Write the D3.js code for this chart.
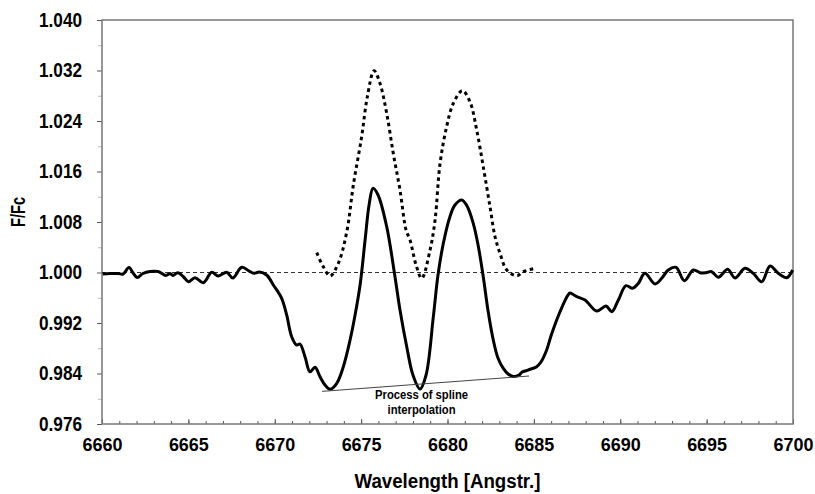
<!DOCTYPE html>
<html>
<head>
<meta charset="utf-8">
<script src="https://cdn.jsdelivr.net/npm/d3@7"></script>
<style>
  body { margin: 0; background: #fff; }
  text { font-family: "Liberation Sans", Arial, sans-serif; font-weight: bold; fill: #000; }
</style>
</head>
<body>
<script>
// observed spectrum (solid line)
var obsWl = [6660.04, 6660.46, 6660.93, 6661.22, 6661.56, 6661.80, 6662.03, 6662.37, 6662.78, 6663.24,
  6663.70, 6663.94, 6664.11, 6664.38, 6664.71, 6665.00, 6665.38, 6665.86, 6666.35, 6666.73,
  6667.22, 6667.57, 6668.09, 6668.57, 6668.82, 6669.11, 6669.53, 6669.92, 6670.40, 6670.69,
  6670.98, 6671.27, 6671.46, 6671.75, 6672.04, 6672.33, 6672.62, 6672.91, 6673.20, 6673.59,
  6673.97, 6674.36, 6674.65, 6674.94, 6675.23, 6675.46, 6675.69, 6675.98, 6676.48, 6676.96,
  6677.25, 6677.64, 6678.00, 6678.41, 6678.76, 6679.18, 6679.45, 6679.76, 6680.14, 6680.43,
  6680.82, 6681.13, 6681.49, 6681.77, 6682.07, 6682.34, 6682.65, 6682.92, 6683.23, 6683.51,
  6683.81, 6684.14, 6684.32, 6684.59, 6684.83, 6685.16, 6685.41, 6685.74, 6685.99, 6686.32,
  6686.63, 6686.98, 6687.09, 6687.48, 6687.96, 6688.64, 6689.18, 6689.51, 6689.89, 6690.33,
  6690.72, 6691.05, 6691.43, 6692.01, 6692.40, 6692.78, 6693.23, 6693.71, 6694.23, 6694.62,
  6694.96, 6695.29, 6695.68, 6696.22, 6696.64, 6697.22, 6697.70, 6698.19, 6698.67, 6699.15,
  6699.64, 6699.98];
var obsFlux = [0.99976, 0.99984, 0.99984, 0.99976, 1.00079, 0.99992, 0.99921, 0.99984, 1.00016, 1.00016,
  0.99952, 0.99984, 0.99952, 0.99997, 0.99933, 0.99854, 0.99918, 0.99838, 1.00003, 0.99945,
  1.00003, 0.99913, 1.00082, 1.00013, 0.99987, 1.00008, 0.99960, 0.99802, 0.99591, 0.99327,
  0.98983, 0.98851, 0.98867, 0.98666, 0.98428, 0.98498, 0.98349, 0.98218, 0.98150, 0.98245,
  0.98508, 0.98931, 0.99327, 0.99802, 1.00515, 1.01069, 1.01334, 1.01228, 1.00726, 0.99933,
  0.99406, 0.98825, 0.98376, 0.98154, 0.98376, 0.99300, 0.99960, 1.00463, 1.00884, 1.01069,
  1.01149, 1.01054, 1.00779, 1.00436, 0.99933, 0.99406, 0.98931, 0.98646, 0.98482, 0.98392,
  0.98352, 0.98376, 0.98424, 0.98448, 0.98471, 0.98508, 0.98582, 0.98772, 0.98994, 0.99248,
  0.99453, 0.99644, 0.99675, 0.99617, 0.99564, 0.99390, 0.99469, 0.99379, 0.99564, 0.99791,
  0.99750, 0.99829, 0.99987, 0.99818, 0.99908, 1.00040, 1.00082, 0.99870, 1.00040, 0.99997,
  0.99997, 1.00013, 0.99924, 1.00051, 0.99913, 1.00067, 0.99987, 0.99854, 1.00103, 0.99987,
  0.99918, 1.00040];

// normalised spectrum after spline (dotted line)
var normWl = [6672.43, 6672.81, 6673.20, 6673.68, 6674.17, 6674.55, 6675.03, 6675.36, 6675.75, 6676.09,
  6676.48, 6676.86, 6677.25, 6677.60, 6677.83, 6678.18, 6678.51, 6678.99, 6679.28, 6679.57,
  6679.95, 6680.34, 6680.86, 6681.30, 6681.69, 6682.07, 6682.46, 6682.75, 6683.04, 6683.43,
  6684.01, 6684.39, 6685.06];
var normFlux = [1.00314, 1.00092, 0.99945, 1.00146, 1.00646, 1.01386, 1.02151, 1.02785, 1.03197, 1.02997,
  1.02522, 1.01888, 1.01307, 1.00673, 1.00515, 1.00119, 0.99908, 1.00356, 1.00832, 1.01730,
  1.02310, 1.02681, 1.02880, 1.02706, 1.02258, 1.01676, 1.01042, 1.00567, 1.00304, 1.00040,
  0.99949, 1.00013, 1.00067];

// spline baseline through the minima
var splineWl = [6672.74, 6684.72];
var splineFlux = [0.98117, 0.98360];

var xTicks = [6660, 6665, 6670, 6675, 6680, 6685, 6690, 6695, 6700];
var yTicks = [0.976, 0.984, 0.992, 1.000, 1.008, 1.016, 1.024, 1.032, 1.040];

var W = 815, H = 494;
var m = {top: 20, right: 22, bottom: 70, left: 102};
var w = W - m.left - m.right, h = H - m.top - m.bottom;

var svg = d3.select("body").append("svg")
    .attr("width", W)
    .attr("height", H);
var g = svg.append("g").attr("transform", "translate(" + m.left + "," + m.top + ")");

var x = d3.scaleLinear().domain([6660, 6700]).range([0, w]);
var y = d3.scaleLinear().domain([0.976, 1.040]).range([h, 0]);

// minor ticks
g.append("g").attr("transform", "translate(0," + h + ")")
  .call(d3.axisBottom(x).tickValues(d3.range(6660, 6701, 1)).tickSize(-3).tickFormat(""))
  .call(function(s) { s.select(".domain").remove(); s.selectAll("line").attr("stroke", "#555"); });
g.append("g")
  .call(d3.axisLeft(y).tickValues(d3.range(0.980, 1.04, 0.008)).tickSize(4).tickFormat(""))
  .call(function(s) { s.select(".domain").remove(); s.selectAll("line").attr("stroke", "#bbb"); });

// major ticks + labels (squeezed to the narrow face of the reference)
var xAxis = g.append("g").attr("transform", "translate(0," + h + ")")
  .call(d3.axisBottom(x).tickValues(xTicks).tickSizeInner(-5).tickSizeOuter(0).tickPadding(14).tickFormat(d3.format("d")));
xAxis.select(".domain").remove();
xAxis.selectAll("line").attr("stroke", "#555");
xAxis.selectAll("text").attr("font-size", 19).attr("fill", "#000")
  .attr("textLength", 40).attr("lengthAdjust", "spacingAndGlyphs");

var yAxis = g.append("g")
  .call(d3.axisLeft(y).tickValues(yTicks).tickSizeInner(5).tickSizeOuter(0).tickPadding(15).tickFormat(d3.format(".3f")));
yAxis.select(".domain").remove();
yAxis.selectAll("line").attr("stroke", "#555");
yAxis.selectAll("text").attr("font-size", 20).attr("fill", "#000")
  .attr("textLength", 43).attr("lengthAdjust", "spacingAndGlyphs");

// frame
g.append("rect").attr("width", w).attr("height", h)
  .attr("fill", "none").attr("stroke", "#777").attr("stroke-width", 1.5);

// continuum level
g.append("line")
  .attr("x1", 0).attr("x2", w).attr("y1", y(1)).attr("y2", y(1))
  .attr("stroke", "#333").attr("stroke-width", 1).attr("stroke-dasharray", "4,3");

var line = d3.line().curve(d3.curveCatmullRom.alpha(0.5))
  .x(function(d) { return x(d[0]); })
  .y(function(d) { return y(d[1]); });

g.append("path")
  .datum(d3.zip(obsWl, obsFlux))
  .attr("d", line)
  .attr("fill", "none").attr("stroke", "#000").attr("stroke-width", 3)
  .attr("stroke-linejoin", "round");

g.append("path")
  .datum(d3.zip(normWl, normFlux))
  .attr("d", line)
  .attr("fill", "none").attr("stroke", "#000").attr("stroke-width", 3)
  .attr("stroke-dasharray", "3.5,3.5");

g.append("path")
  .datum(d3.zip(splineWl, splineFlux))
  .attr("d", d3.line().x(function(d) { return x(d[0]); }).y(function(d) { return y(d[1]); }))
  .attr("stroke", "#444").attr("stroke-width", 1).attr("fill", "none");

// annotation
var note = g.append("text")
  .attr("text-anchor", "middle").attr("font-size", 12);
note.append("tspan").attr("x", x(6678.5)).attr("y", 379)
  .attr("textLength", 93).attr("lengthAdjust", "spacingAndGlyphs").text("Process of spline");
note.append("tspan").attr("x", x(6678.5)).attr("y", 394)
  .attr("textLength", 68).attr("lengthAdjust", "spacingAndGlyphs").text("interpolation");

// axis titles
svg.append("text")
  .attr("x", m.left + w / 2).attr("y", 488)
  .attr("text-anchor", "middle").attr("font-size", 20)
  .attr("textLength", 186).attr("lengthAdjust", "spacingAndGlyphs")
  .text("Wavelength [Angstr.]");
svg.append("text")
  .attr("transform", "translate(25," + (m.top + h / 2 - 10) + ") rotate(-90)")
  .attr("text-anchor", "middle").attr("font-size", 20)
  .attr("textLength", 30).attr("lengthAdjust", "spacingAndGlyphs")
  .text("F/Fc");
</script>
</body>
</html>
